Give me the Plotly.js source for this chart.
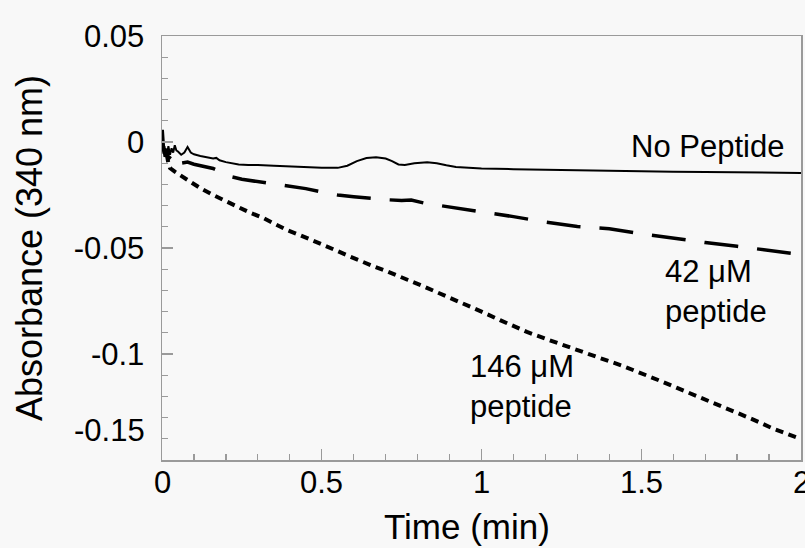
<!DOCTYPE html>
<html>
<head>
<meta charset="utf-8">
<script src="https://cdn.plot.ly/plotly-3.0.1.min.js"></script>
<style>html,body{margin:0;padding:0;background:#f8f8f8;}</style>
</head>
<body>
<div id="chart" style="width:805px;height:548px;"></div>
<script>
// ---- data ----
const noPepT = [0,0.003,0.006,0.009,0.012,0.016,0.02,0.025,0.03,0.035,0.04,0.045,0.05,0.06,0.07,0.08,0.09,0.1,0.12,0.14,0.16,0.17,0.18,0.2,0.22,0.24,0.27,0.3,0.35,0.4,0.45,0.5,0.55,0.58,0.61,0.64,0.67,0.7,0.72,0.74,0.76,0.79,0.83,0.86,0.89,0.92,0.96,1.0,1.1,1.2,1.3,1.4,1.5,1.6,1.7,1.8,1.9,2.0];
const noPepA = [-0.004,0.0057,-0.001,-0.006,-0.003,-0.006,-0.002,-0.006,-0.003,-0.005,-0.0015,-0.004,-0.0045,-0.006,-0.005,-0.0024,-0.005,-0.0058,-0.0066,-0.0072,-0.0078,-0.0075,-0.0086,-0.0095,-0.0099,-0.0106,-0.0108,-0.0108,-0.0112,-0.0116,-0.0120,-0.0122,-0.0122,-0.0112,-0.0090,-0.0076,-0.0072,-0.0078,-0.0090,-0.0106,-0.0108,-0.0100,-0.0096,-0.0100,-0.0110,-0.0118,-0.0122,-0.0125,-0.0128,-0.0131,-0.0134,-0.0137,-0.0138,-0.0140,-0.0141,-0.0142,-0.0142,-0.0146];

const pep42T = [0,0.005,0.01,0.015,0.02,0.03,0.04,0.05,0.06,0.08,0.1,0.13,0.16,0.19,0.22,0.25,0.3,0.35,0.4,0.45,0.5,0.55,0.6,0.65,0.7,0.75,0.78,0.82,0.86,0.9,1.0,1.1,1.2,1.3,1.4,1.5,1.6,1.7,1.8,1.9,2.0];
const pep42A = [-0.004,-0.002,-0.007,-0.004,-0.008,-0.006,-0.009,-0.008,-0.010,-0.0095,-0.0105,-0.0115,-0.0125,-0.0145,-0.0165,-0.0176,-0.0186,-0.0196,-0.0206,-0.0220,-0.0236,-0.0250,-0.0258,-0.0266,-0.0272,-0.0276,-0.0274,-0.0288,-0.0298,-0.0308,-0.0330,-0.0352,-0.0378,-0.0399,-0.0409,-0.0433,-0.0455,-0.0474,-0.0492,-0.0510,-0.0531];

const pep146T = [0,0.005,0.01,0.015,0.02,0.025,0.04,0.066,0.09,0.119,0.16,0.2,0.235,0.275,0.316,0.35,0.391,0.43,0.463,0.5,0.541,0.58,0.62,0.66,0.701,0.735,0.77,0.82,0.861,0.9,0.942,1.0,1.058,1.1,1.142,1.2,1.277,1.33,1.371,1.44,1.506,1.56,1.612,1.67,1.731,1.79,1.847,1.91,1.972,2.0];
const pep146A = [-0.004,-0.003,-0.007,-0.006,-0.010,-0.0123,-0.0140,-0.0165,-0.0190,-0.0217,-0.0250,-0.0280,-0.0307,-0.0333,-0.0358,-0.0383,-0.0415,-0.0438,-0.0458,-0.0481,-0.0509,-0.0535,-0.0561,-0.0585,-0.0608,-0.0627,-0.0651,-0.0682,-0.0708,-0.0733,-0.0760,-0.0800,-0.0840,-0.0868,-0.0896,-0.0928,-0.0967,-0.0995,-0.1019,-0.1055,-0.1093,-0.1127,-0.1160,-0.1196,-0.1231,-0.1270,-0.1307,-0.1350,-0.1387,-0.1401];

const yTickVals = [0.05, 0, -0.05, -0.1];
const yTickText = ['0.05', '0', '-0.05', '-0.1'];
const yBottomLabel = '-0.15';
const xTickVals = [0, 0.5, 1, 1.5, 2];
const xTickText = ['0', '0.5', '1', '1.5', '2'];
const labelNoPep = 'No Peptide';
const label42 = '42 μM<br>peptide';
const label146 = '146 μM<br>peptide';
const xTitle = 'Time (min)';
const yTitle = 'Absorbance (340 nm)';

const FONT = 'Liberation Sans, Arial, Helvetica, sans-serif';
const AX = '#9a9a9a';

const traces = [
  {x: noPepT, y: noPepA, mode: 'lines', line: {color: '#000', width: 2}, hoverinfo: 'skip'},
  {x: pep42T, y: pep42A, mode: 'lines', line: {color: '#000', width: 3.5, dash: '34px,19px'}, hoverinfo: 'skip'},
  {x: pep146T, y: pep146A, mode: 'lines', line: {color: '#000', width: 4, dash: '8px,5.5px'}, hoverinfo: 'skip'}
];

// x tick labels as annotations so the last one ("2") is drawn at the page edge like the reference
const xTickAnn = xTickVals.map((v, i) => ({
  text: xTickText[i], xref: 'x', yref: 'paper', x: v, y: 0,
  xanchor: 'center', yanchor: 'middle', yshift: -22, showarrow: false,
  font: {family: FONT, size: 31, color: '#000'}
}));

const layout = {
  width: 805, height: 548,
  margin: {l: 162, r: 4, t: 36, b: 88},
  paper_bgcolor: '#f8f8f8', plot_bgcolor: '#f8f8f8',
  showlegend: false,
  font: {family: FONT, color: '#000', size: 31},
  xaxis: {
    range: [0, 2], showgrid: false, zeroline: false,
    showline: true, mirror: true, linecolor: AX, linewidth: 1.5,
    ticks: 'inside', ticklen: 11, tickwidth: 1.2, tickcolor: AX,
    tickvals: xTickVals, showticklabels: false,
    minor: {dtick: 0.1, ticks: 'inside', ticklen: 6, tickwidth: 1.2, tickcolor: AX, showgrid: false}
  },
  yaxis: {
    range: [-0.15, 0.05], showgrid: false, zeroline: false,
    showline: true, mirror: true, linecolor: AX, linewidth: 1.5,
    ticks: 'inside', ticklen: 11, tickwidth: 1.2, tickcolor: AX,
    tickvals: yTickVals, ticktext: yTickText,
    tickfont: {family: FONT, size: 31, color: '#000'},
    ticklabelstandoff: 10,
    minor: {dtick: 0.01, ticks: 'inside', ticklen: 6, tickwidth: 1.2, tickcolor: AX, showgrid: false}
  },
  annotations: xTickAnn.concat([
    {text: yBottomLabel, xref: 'paper', yref: 'y', x: 0, y: -0.15, xanchor: 'right', yanchor: 'middle', xshift: -15, yshift: 30, showarrow: false, font: {family: FONT, size: 31}},
    {text: xTitle, xref: 'paper', yref: 'paper', x: 0.477, y: -0.158, xanchor: 'center', yanchor: 'middle', showarrow: false, font: {family: FONT, size: 35}},
    {text: yTitle, xref: 'paper', yref: 'paper', x: -0.208, y: 0.5, xanchor: 'center', yanchor: 'middle', textangle: -90, showarrow: false, font: {family: FONT, size: 36}},
    {text: labelNoPep, xref: 'x', yref: 'y', x: 1.953, y: -0.0019, xanchor: 'right', yanchor: 'middle', showarrow: false, font: {family: FONT, size: 31}},
    {text: label42, xref: 'x', yref: 'y', x: 1.568, y: -0.0705, xanchor: 'left', yanchor: 'middle', align: 'left', showarrow: false, font: {family: FONT, size: 31}},
    {text: label146, xref: 'x', yref: 'y', x: 0.958, y: -0.1153, xanchor: 'left', yanchor: 'middle', align: 'left', showarrow: false, font: {family: FONT, size: 31}}
  ])
};

Plotly.newPlot('chart', traces, layout, {staticPlot: true, displayModeBar: false});
</script>
</body>
</html>
